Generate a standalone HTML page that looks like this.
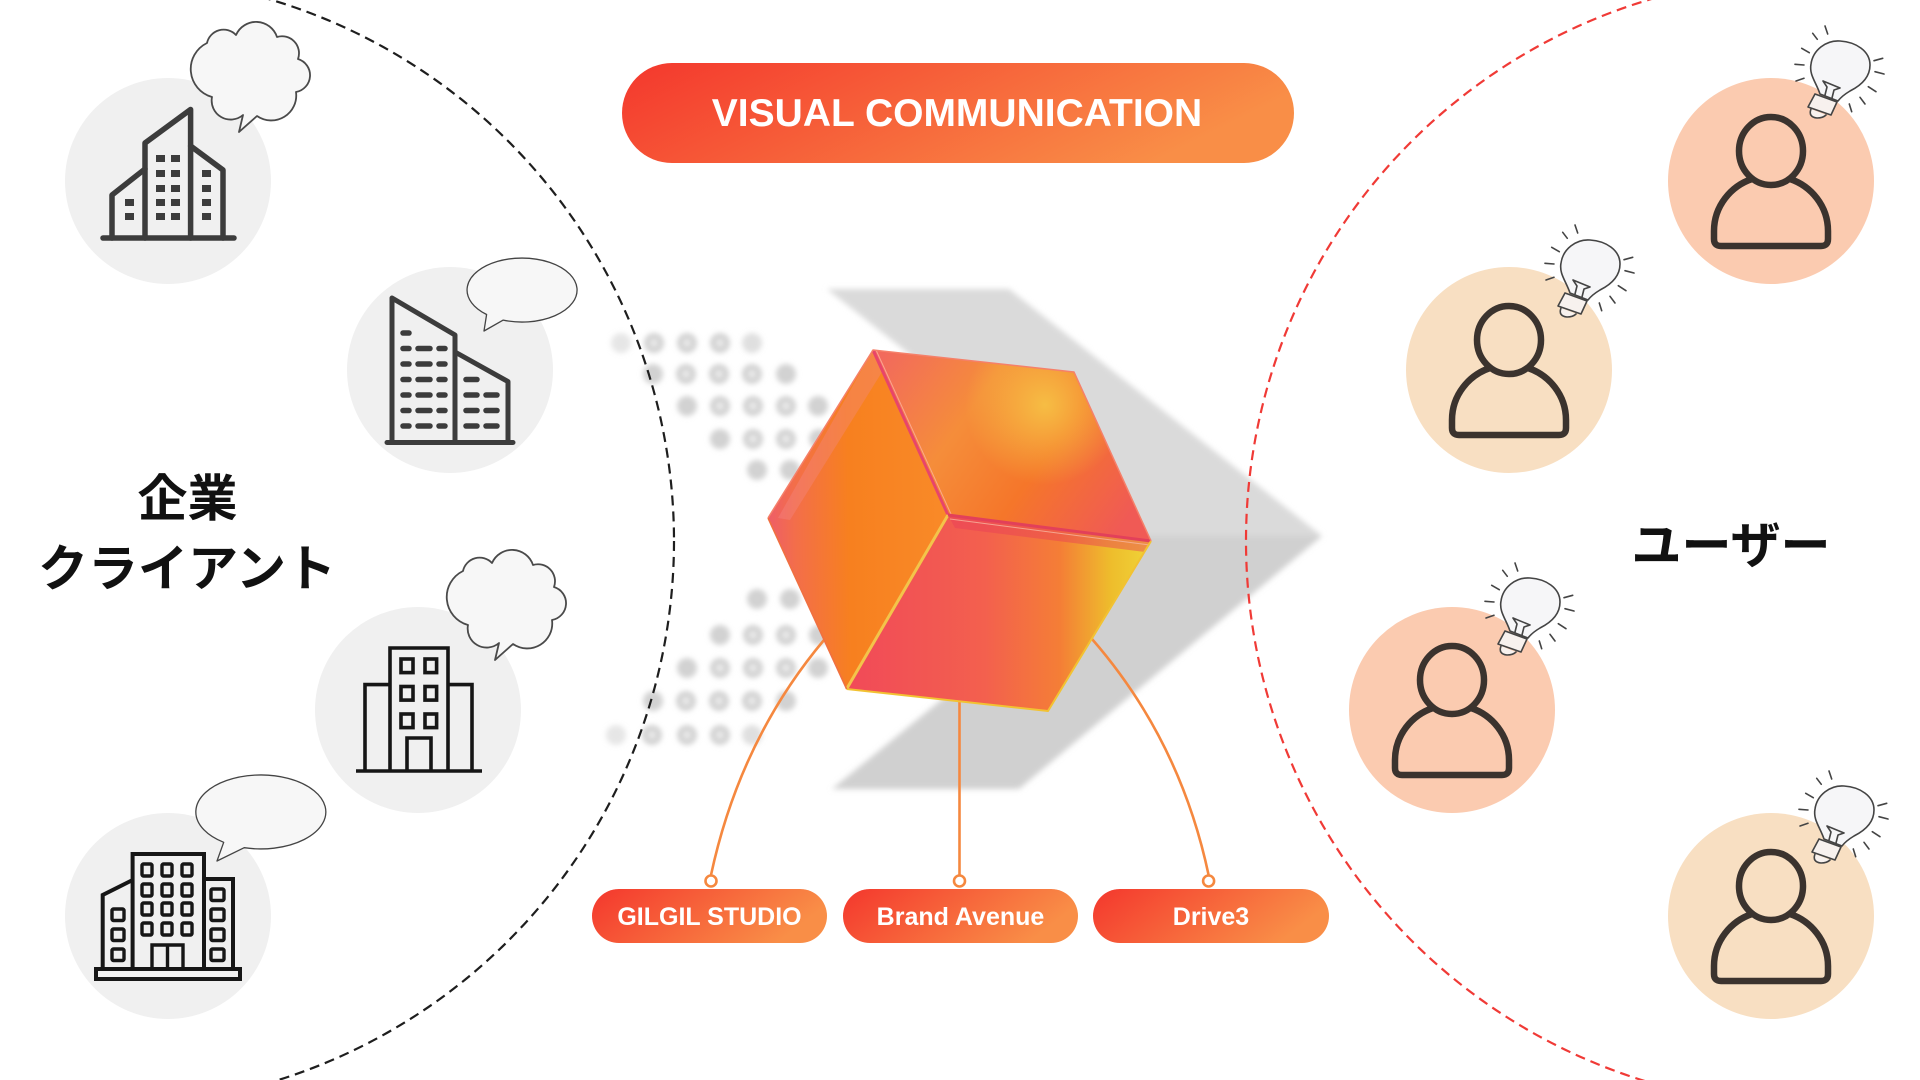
<!DOCTYPE html>
<html>
<head>
<meta charset="utf-8">
<style>
html,body{margin:0;padding:0;background:#ffffff;}
svg{display:block}
.jp{font-family:"Liberation Sans","Noto Sans CJK JP",sans-serif;font-weight:700;fill:#111;}
.lbl{font-family:"Liberation Sans",sans-serif;font-weight:700;fill:#fff;}
</style>
</head>
<body>
<svg width="1920" height="1080" viewBox="0 0 1920 1080" xmlns="http://www.w3.org/2000/svg">
<defs>
  <linearGradient id="pillG" x1="0" y1="0" x2="1" y2="0.3">
    <stop offset="0" stop-color="#f4372d"/>
    <stop offset="1" stop-color="#f98e47"/>
  </linearGradient>
  <filter id="soft" x="-20%" y="-20%" width="140%" height="140%">
    <feGaussianBlur stdDeviation="3"/>
  </filter>
  <filter id="dotblur" x="-50%" y="-50%" width="200%" height="200%">
    <feGaussianBlur stdDeviation="2.6"/>
  </filter>
  <linearGradient id="faceL" gradientUnits="userSpaceOnUse" x1="768" y1="518" x2="948" y2="515">
    <stop offset="0" stop-color="#ee5d68"/>
    <stop offset="0.15" stop-color="#f36e4a"/>
    <stop offset="0.45" stop-color="#f7801f"/>
    <stop offset="1" stop-color="#f98a28"/>
  </linearGradient>
  <linearGradient id="faceT" gradientUnits="userSpaceOnUse" x1="880" y1="360" x2="1120" y2="530">
    <stop offset="0" stop-color="#f26a5c"/>
    <stop offset="0.35" stop-color="#f58d3a"/>
    <stop offset="0.65" stop-color="#f5762a"/>
    <stop offset="1" stop-color="#f05a55"/>
  </linearGradient>
  <radialGradient id="faceTy" gradientUnits="userSpaceOnUse" cx="1045" cy="405" r="80">
    <stop offset="0" stop-color="#f6c446" stop-opacity="0.9"/>
    <stop offset="1" stop-color="#f6c446" stop-opacity="0"/>
  </radialGradient>
  <linearGradient id="faceB" gradientUnits="userSpaceOnUse" x1="850" y1="600" x2="1150" y2="600">
    <stop offset="0" stop-color="#f14a58"/>
    <stop offset="0.45" stop-color="#f3604e"/>
    <stop offset="0.7" stop-color="#f47e36"/>
    <stop offset="0.87" stop-color="#eebd2c"/>
    <stop offset="1" stop-color="#f0d438"/>
  </linearGradient>

  <g id="bulb" stroke="#444" stroke-width="1.6" stroke-linecap="round" stroke-linejoin="round">
    <path d="M30,74 C26,62 19,55 21,44 C23,30 36,20 50,21 C66,22 80,31 80,45 C80,58 70,66 60,71 C55,74 51,77 48,81 Z" fill="#f6f6f8"/>
    <path d="M25,74 L47,82 L41,95 L18,87 Z" fill="#f7f1ee"/>
    <path d="M21,89 Q18,97 27,98 Q33,98 36,95" fill="#f7f1ee"/>
    <path d="M33,61 L50,68 M33,61 L37,67 L35,75 M50,68 L44,70 L42,78" fill="none"/>
    <g fill="none">
      <line x1="22.7" y1="13.3" x2="27.3" y2="19.3"/>
      <line x1="35" y1="6" x2="37.7" y2="14"/>
      <line x1="11.7" y1="28.3" x2="19.3" y2="32.7"/>
      <line x1="5" y1="44.3" x2="14" y2="45"/>
      <line x1="6" y1="61" x2="14" y2="58.3"/>
      <line x1="84" y1="40.7" x2="92.7" y2="38.3"/>
      <line x1="85" y1="51.7" x2="94" y2="54"/>
      <line x1="78.3" y1="66.7" x2="86" y2="71.7"/>
      <line x1="70" y1="77.3" x2="75" y2="84"/>
      <line x1="59.3" y1="84" x2="61.7" y2="91.7"/>
    </g>
  </g>

  <g id="person" fill="none" stroke="#3b332e" stroke-width="6.5" stroke-linejoin="round" stroke-linecap="round">
    <path d="M-19,-2 C-40,5 -57,25 -57,50 L-57,58 Q-57,65 -50,65 L50,65 Q57,65 57,58 L57,50 C57,25 40,5 19,-2"/>
    <ellipse cx="0" cy="-30" rx="32" ry="34"/>
  </g>

  <path id="cloud" d="M243,115 A19,19 0 0 1 212,97 A29,29 0 0 1 207,43 A17,17 0 0 1 236,35 A22,22 0 0 1 277,37 A17,17 0 0 1 298,59 A17,17 0 0 1 296,92 A25,25 0 0 1 257,116 L239,132 Z" fill="#f7f7f7" stroke="#4a4a4a" stroke-width="1.8" stroke-linejoin="round"/>
</defs>

<!-- ===== Chevron (background) ===== -->
<g filter="url(#soft)">
  <polygon points="827,289 1009,289 1322,536 1142,538" fill="#dadada"/>
  <polygon points="1142,536 1322,536 1019,789 832,789" fill="#d0d0d0"/>
</g>

<!-- ===== Halftone dots ===== -->
<g filter="url(#dotblur)" fill="#d2d2d2">
  <circle cx="621" cy="343" r="10" opacity="0.55"/><circle cx="654" cy="343" r="10"/><circle cx="687" cy="343" r="10"/><circle cx="720" cy="343" r="10"/><circle cx="752" cy="343" r="10" opacity="0.7"/>
  <circle cx="653" cy="374" r="10"/><circle cx="686" cy="374" r="10"/><circle cx="719" cy="374" r="10"/><circle cx="752" cy="374" r="10"/><circle cx="786" cy="374" r="10"/>
  <circle cx="687" cy="406" r="10"/><circle cx="720" cy="406" r="10"/><circle cx="753" cy="406" r="10"/><circle cx="786" cy="406" r="10"/><circle cx="818" cy="406" r="10"/>
  <circle cx="720" cy="439" r="10"/><circle cx="753" cy="439" r="10"/><circle cx="786" cy="439" r="10"/><circle cx="819" cy="439" r="10"/>
  <circle cx="757" cy="470" r="10"/><circle cx="790" cy="470" r="10"/>

  <circle cx="757" cy="599" r="10"/><circle cx="790" cy="599" r="10"/>
  <circle cx="720" cy="635" r="10"/><circle cx="753" cy="635" r="10"/><circle cx="786" cy="635" r="10"/><circle cx="819" cy="635" r="10"/>
  <circle cx="687" cy="668" r="10"/><circle cx="720" cy="668" r="10"/><circle cx="753" cy="668" r="10"/><circle cx="786" cy="668" r="10"/><circle cx="818" cy="668" r="10"/>
  <circle cx="653" cy="701" r="10"/><circle cx="686" cy="701" r="10"/><circle cx="719" cy="701" r="10"/><circle cx="752" cy="701" r="10"/><circle cx="786" cy="701" r="10"/>
  <circle cx="616" cy="735" r="10" opacity="0.55"/><circle cx="652" cy="735" r="10"/><circle cx="687" cy="735" r="10"/><circle cx="720" cy="735" r="10"/><circle cx="752" cy="735" r="10" opacity="0.7"/>
</g>
<g filter="url(#dotblur)" fill="#ececec">
  <circle cx="654" cy="343" r="4"/><circle cx="687" cy="343" r="4"/><circle cx="720" cy="343" r="4"/>
  <circle cx="686" cy="374" r="4"/><circle cx="719" cy="374" r="4"/><circle cx="752" cy="374" r="4"/>
  <circle cx="720" cy="406" r="4"/><circle cx="753" cy="406" r="4"/><circle cx="786" cy="406" r="4"/>
  <circle cx="753" cy="439" r="4"/><circle cx="786" cy="439" r="4"/>
  <circle cx="753" cy="635" r="4"/><circle cx="786" cy="635" r="4"/>
  <circle cx="720" cy="668" r="4"/><circle cx="753" cy="668" r="4"/><circle cx="786" cy="668" r="4"/>
  <circle cx="686" cy="701" r="4"/><circle cx="719" cy="701" r="4"/><circle cx="752" cy="701" r="4"/>
  <circle cx="652" cy="735" r="4"/><circle cx="687" cy="735" r="4"/><circle cx="720" cy="735" r="4"/>
</g>

<!-- ===== Dashed circles ===== -->
<circle cx="109" cy="541" r="565" fill="none" stroke="#1e1e1e" stroke-width="2.2" stroke-dasharray="10 6"/>
<circle cx="1811" cy="541" r="565" fill="none" stroke="#f03a36" stroke-width="2.2" stroke-dasharray="10 6"/>

<!-- ===== Left gray circles ===== -->
<circle cx="168" cy="181" r="103" fill="#f0f0f0"/>
<circle cx="450" cy="370" r="103" fill="#f0f0f0"/>
<circle cx="418" cy="710" r="103" fill="#f0f0f0"/>
<circle cx="168" cy="916" r="103" fill="#f0f0f0"/>

<!-- Building 1 -->
<g fill="none" stroke="#3c3c3c" stroke-width="5.5" stroke-linecap="round" stroke-linejoin="round">
  <line x1="103" y1="238" x2="234" y2="238"/>
  <path d="M112,238 V195 L145,169"/>
  <path d="M145,238 V143 L190.6,109.5 V238"/>
  <path d="M190.6,146 L223,170 V238"/>
</g>
<g fill="#3c3c3c">
  <rect x="156" y="155" width="9" height="7"/><rect x="171" y="155" width="9" height="7"/>
  <rect x="156" y="170" width="9" height="7"/><rect x="171" y="170" width="9" height="7"/>
  <rect x="156" y="185" width="9" height="7"/><rect x="171" y="185" width="9" height="7"/>
  <rect x="156" y="199" width="9" height="7"/><rect x="171" y="199" width="9" height="7"/>
  <rect x="156" y="213" width="9" height="7"/><rect x="171" y="213" width="9" height="7"/>
  <rect x="202" y="170" width="9" height="7"/><rect x="202" y="185" width="9" height="7"/>
  <rect x="202" y="199" width="9" height="7"/><rect x="202" y="213" width="9" height="7"/>
  <rect x="125" y="199" width="9" height="7"/><rect x="125" y="213" width="9" height="7"/>
</g>
<use href="#cloud"/>

<!-- Building 2 -->
<g fill="none" stroke="#3c3c3c" stroke-width="5" stroke-linecap="round" stroke-linejoin="round">
  <line x1="387" y1="442.5" x2="513" y2="442.5"/>
  <path d="M392,442.5 V298 L455,335 V442.5"/>
  <path d="M455,352 L508,381.6 V442.5"/>
</g>
<g fill="none" stroke="#3c3c3c" stroke-width="5.5" stroke-linecap="round">
  <line x1="403" y1="333" x2="409" y2="333"/>
  <path d="M403,348.5 h6 M418,348.5 h12 M439,348.5 h6"/>
  <path d="M403,364 h6 M418,364 h12 M439,364 h6"/>
  <path d="M403,379.5 h6 M418,379.5 h12 M439,379.5 h6 M466,379.5 h11"/>
  <path d="M403,395 h6 M418,395 h12 M439,395 h6 M466,395 h11 M486,395 h11"/>
  <path d="M403,410.5 h6 M418,410.5 h12 M439,410.5 h6 M466,410.5 h11 M486,410.5 h11"/>
  <path d="M403,426 h6 M418,426 h12 M439,426 h6 M466,426 h11 M486,426 h11"/>
</g>
<path d="M503.2,320.1 A55,32 0 1 0 486.6,314.5 L484,331 Z" fill="#f7f7f7" stroke="#444" stroke-width="1.3" stroke-linejoin="round"/>

<!-- Building 3 -->
<g fill="none" stroke="#161616" stroke-width="3.6" stroke-linejoin="miter">
  <line x1="356" y1="771" x2="482" y2="771"/>
  <path d="M390,771 V648 H448 V771"/>
  <path d="M390,684.6 H365 V771"/>
  <path d="M448,684.6 H472 V771"/>
  <rect x="401" y="659" width="12" height="13.6"/><rect x="425" y="659" width="11.6" height="13.6"/>
  <rect x="401" y="686.5" width="12" height="13.6"/><rect x="425" y="686.5" width="11.6" height="13.6"/>
  <rect x="401" y="714" width="12" height="13.6"/><rect x="425" y="714" width="11.6" height="13.6"/>
  <path d="M407,771 V738 H431 V771"/>
</g>
<use href="#cloud" transform="translate(256,528)"/>

<!-- Building 4 -->
<g fill="none" stroke="#161616" stroke-width="4" stroke-linejoin="miter">
  <rect x="96" y="969" width="144" height="10"/>
  <path d="M132.6,969 V854 H204 V969"/>
  <path d="M132.6,880 L102.7,895 V969"/>
  <path d="M204,879 H233 V969"/>
  <g stroke-width="3.4">
    <rect x="142" y="864" width="10" height="12" rx="1.5"/><rect x="162" y="864" width="10" height="12" rx="1.5"/><rect x="182" y="864" width="10" height="12" rx="1.5"/>
    <rect x="142" y="884" width="10" height="12" rx="1.5"/><rect x="162" y="884" width="10" height="12" rx="1.5"/><rect x="182" y="884" width="10" height="12" rx="1.5"/>
    <rect x="142" y="903" width="10" height="12" rx="1.5"/><rect x="162" y="903" width="10" height="12" rx="1.5"/><rect x="182" y="903" width="10" height="12" rx="1.5"/>
    <rect x="142" y="923" width="10" height="12" rx="1.5"/><rect x="162" y="923" width="10" height="12" rx="1.5"/><rect x="182" y="923" width="10" height="12" rx="1.5"/>
    <rect x="112" y="909" width="12" height="11.5" rx="1.5"/><rect x="112" y="929" width="12" height="11.5" rx="1.5"/><rect x="112" y="949" width="12" height="11.5" rx="1.5"/>
    <rect x="211" y="889" width="13" height="11.5" rx="1.5"/><rect x="211" y="909" width="13" height="11.5" rx="1.5"/><rect x="211" y="929" width="13" height="11.5" rx="1.5"/><rect x="211" y="949" width="13" height="11.5" rx="1.5"/>
    <path d="M152,969 V945 H183 V969 M167.5,945 V969"/>
  </g>
</g>
<path d="M244.2,847.7 A65,37 0 1 0 223.7,842.3 L217,861 Z" fill="#f7f7f7" stroke="#444" stroke-width="1.3" stroke-linejoin="round"/>

<!-- ===== Right user circles ===== -->
<circle cx="1771" cy="181" r="103" fill="#fbcbb0"/>
<circle cx="1509" cy="370" r="103" fill="#f8dfc2"/>
<circle cx="1452" cy="710" r="103" fill="#fbcbb0"/>
<circle cx="1771" cy="916" r="103" fill="#f8dfc2"/>
<use href="#person" transform="translate(1771,181)"/>
<use href="#person" transform="translate(1509,370)"/>
<use href="#person" transform="translate(1452,710)"/>
<use href="#person" transform="translate(1771,916)"/>
<use href="#bulb" transform="translate(1790,20)"/>
<use href="#bulb" transform="translate(1540,219)"/>
<use href="#bulb" transform="translate(1480,557)"/>
<use href="#bulb" transform="translate(1794,765)"/>

<!-- ===== Connectors ===== -->
<g fill="none" stroke="#f5883f" stroke-width="2.6">
  <path d="M824,640 Q740,740 711,875"/>
  <line x1="959.5" y1="700" x2="959.5" y2="875"/>
  <path d="M1092,639 Q1180,740 1208.6,875"/>
</g>
<g fill="#ffffff" stroke="#f5883f" stroke-width="2.6">
  <circle cx="711" cy="881" r="5.5"/>
  <circle cx="959.5" cy="881" r="5.5"/>
  <circle cx="1208.6" cy="881" r="5.5"/>
</g>

<!-- ===== Cube ===== -->
<g stroke-linejoin="round">
  <polygon points="873,350 948,515 846.6,689 768,518" fill="url(#faceL)"/>
  <polygon points="873,350 1074,372 1151,541 948,515" fill="url(#faceT)"/>
  <polygon points="873,350 1074,372 1151,541 948,515" fill="url(#faceTy)"/>
  <polygon points="948,515 1151,541 1048,711 846.6,689" fill="url(#faceB)"/>
  <!-- inner glow strips -->
  <polygon points="873,350 882,372 790,520 778,518" fill="#f48a8a" opacity="0.35"/>
  <polygon points="948,515 1151,541 1145,552 955,528" fill="#e83c58" opacity="0.45"/>
  <!-- edges -->
  <line x1="873" y1="350" x2="948" y2="515" stroke="#e8456a" stroke-width="3"/>
  <line x1="876" y1="350" x2="951" y2="514" stroke="#ffb0a0" stroke-width="1" opacity="0.8"/>
  <line x1="948" y1="515" x2="846.6" y2="689" stroke="#f3c44a" stroke-width="3"/>
  <line x1="948" y1="515" x2="1151" y2="541" stroke="#e2405a" stroke-width="3"/>
  <line x1="950" y1="519" x2="1150" y2="545" stroke="#f7b7a0" stroke-width="1" opacity="0.8"/>
  <polyline points="1151,541 1048,711 846.6,689" fill="none" stroke="#f2c232" stroke-width="2"/>
  <polyline points="768,518 873,350 1074,372 1151,541" fill="none" stroke="#f5806a" stroke-width="1.5"/>
  <line x1="768" y1="518" x2="846.6" y2="689" stroke="#f07040" stroke-width="1.5"/>
</g>

<!-- ===== Title pill ===== -->
<rect x="622" y="63" width="672" height="100" rx="50" fill="url(#pillG)"/>
<text x="957" y="126" text-anchor="middle" class="lbl" font-size="39">VISUAL COMMUNICATION</text>

<!-- ===== Bottom pills ===== -->
<rect x="592" y="889" width="235" height="54" rx="27" fill="url(#pillG)"/>
<rect x="843" y="889" width="235" height="54" rx="27" fill="url(#pillG)"/>
<rect x="1093" y="889" width="236" height="54" rx="27" fill="url(#pillG)"/>
<text x="709.5" y="925" text-anchor="middle" class="lbl" font-size="25">GILGIL STUDIO</text>
<text x="960.5" y="925" text-anchor="middle" class="lbl" font-size="25">Brand Avenue</text>
<text x="1211" y="925" text-anchor="middle" class="lbl" font-size="25">Drive3</text>

<!-- ===== Japanese labels ===== -->
<text x="187.5" y="516" text-anchor="middle" class="jp" font-size="50">企業</text>
<text x="187" y="586" text-anchor="middle" class="jp" font-size="50">クライアント</text>
<text x="1731" y="563" text-anchor="middle" class="jp" font-size="50">ユーザー</text>
</svg>
</body>
</html>
